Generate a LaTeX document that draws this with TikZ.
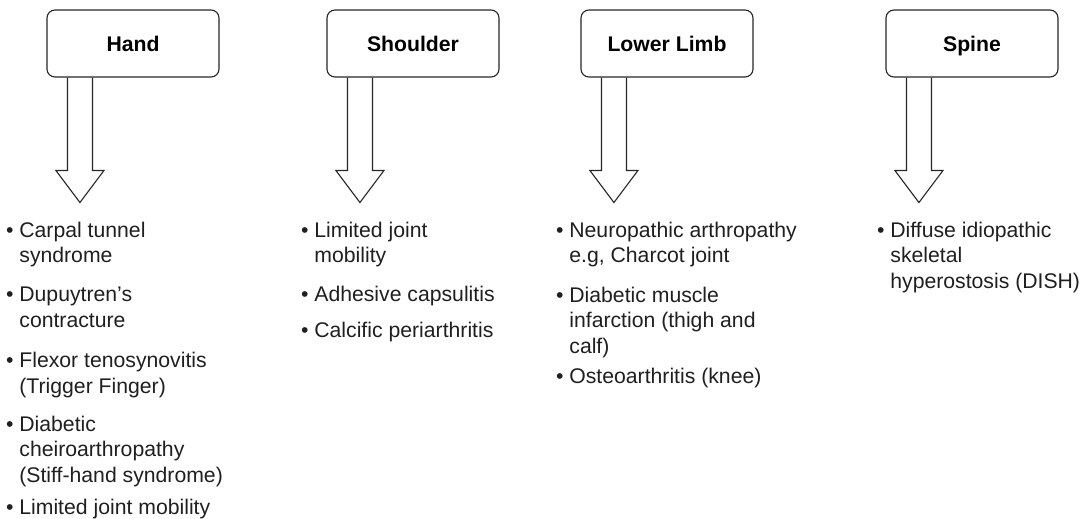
\documentclass[tikz,border=0pt]{standalone}
\usepackage{fontspec}
\setmainfont{Liberation Sans}
\usetikzlibrary{calc}

\begin{document}
\begin{tikzpicture}[
    x=0.5pt, y=-0.5pt,
    font=\fontsize{10.6}{12.75}\selectfont,
    region/.style={draw=black!85, line width=0.55pt, rounded corners=4pt,
                   minimum width=86pt, minimum height=33.5pt, inner sep=0pt,
                   text height=7.6pt, text depth=0pt, font=\fontsize{10.6}{12.75}\selectfont\bfseries},
    pfeil/.style={draw=black!85, line width=0.55pt, line join=miter},
    entry/.style={anchor=base west, align=left, inner sep=0pt, text=black!88}
  ]

  \useasboundingbox (0,0) rectangle (1088,519);

  % --- Boxes ---
  \node[region] (hand)  at (133,43.5) {Hand};
  \node[region] (shldr) at (413,43.5) {Shoulder};
  \node[region] (limb)  at (667,43.5) {Lower Limb};
  \node[region] (spine) at (972,43.5) {Spine};

  % --- Block arrows ---
  \foreach \n in {hand,shldr,limb,spine}
    \draw[pfeil] ($(\n.south west)+(21,0)$) -- ++(0,93) -- ++(-11.5,0)
      -- ++(24,32) -- ++(24,-32) -- ++(-11.5,0) -- ($(\n.south west)+(46,0)$);

  % --- Hand (y = baseline of last line) ---
  \node[entry] (h1) at (19,263) {\llap{•\ }Carpal tunnel\\syndrome};
  \node[entry] (h2) at (19,327) {\llap{•\ }Dupuytren’s\\contracture};
  \node[entry] (h3) at (19,393) {\llap{•\ }Flexor tenosynovitis\\(Trigger Finger)};
  \node[entry] (h4) at (19,482) {\llap{•\ }Diabetic\\cheiroarthropathy\\(Stiff-hand syndrome)};
  \node[entry] (h5) at (19,514) {\llap{•\ }Limited joint mobility};

  % --- Shoulder ---
  \node[entry] (s1) at (314,263) {\llap{•\ }Limited joint\\mobility};
  \node[entry] (s2) at (314,301) {\llap{•\ }Adhesive capsulitis};
  \node[entry] (s3) at (314,337) {\llap{•\ }Calcific periarthritis};

  % --- Lower limb ---
  \node[entry] (l1) at (569,263) {\llap{•\ }Neuropathic arthropathy\\e.g, Charcot joint};
  \node[entry] (l2) at (569,353) {\llap{•\ }Diabetic muscle\\infarction (thigh and\\calf)};
  \node[entry] (l3) at (569,383) {\llap{•\ }Osteoarthritis (knee)};

  % --- Spine ---
  \node[entry] (p1) at (890,288) {\llap{•\ }Diffuse idiopathic\\skeletal\\hyperostosis (DISH)};

\end{tikzpicture}
\end{document}
